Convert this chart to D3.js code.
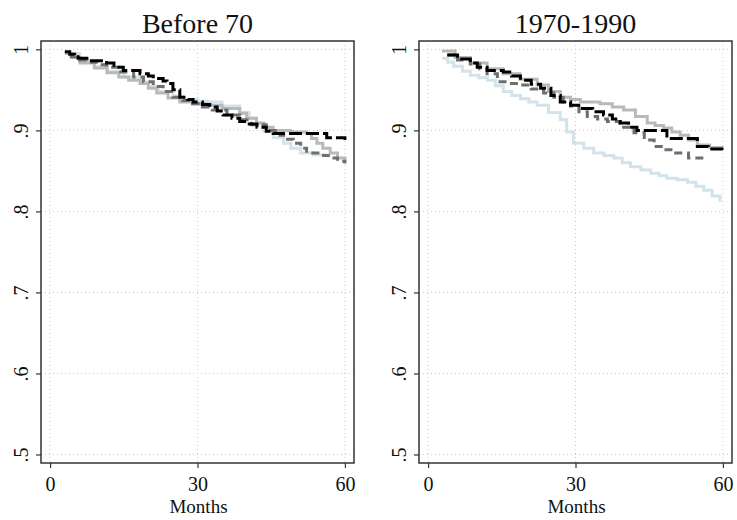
<!DOCTYPE html>
<html>
<head>
<meta charset="utf-8">
<script src="https://cdn.jsdelivr.net/npm/d3@7"></script>
<style>
  body { margin: 0; background: #fff; }
  text { font-family: "Liberation Serif", "DejaVu Serif", serif; fill: #111; }
</style>
</head>
<body>
<div id="chart"></div>
<script>
// panel titles and axis ticks
var panelTitles = ["Before 70", "1970-1990"];
var xTicks = [0, 30, 60];
var yTicks = [0.5, 0.6, 0.7, 0.8, 0.9, 1];

// survival curves: [month, value]
// Before 70
var before_black = [[3,0.997],[4,0.994],[5,0.991],[5.7,0.989],[8,0.986],[11.5,0.983],[13,0.978],[14.9,0.974],[18.3,0.970],[20,0.967],[21,0.964],[23,0.961],[23.8,0.958],[25,0.950],[26.4,0.941],[28,0.938],[29.1,0.935],[31,0.932],[32.5,0.929],[34,0.924],[35.2,0.919],[37,0.915],[38.6,0.911],[40,0.908],[42.1,0.904],[44,0.899],[45.4,0.896],[56.3,0.891],[60,0.888]];
var before_dgray = [[4,0.991],[6,0.987],[7.5,0.984],[9.5,0.981],[11.5,0.978],[14,0.972],[17,0.966],[19,0.960],[21,0.954],[23,0.948],[25,0.941],[27,0.937],[29,0.933],[31,0.929],[33,0.925],[36,0.919],[38.6,0.913],[41,0.907],[44,0.900],[46.8,0.894],[48,0.889],[49.5,0.884],[51,0.878],[52.2,0.872],[54.5,0.869],[57,0.866],[58.5,0.862],[60,0.859]];
var before_lgray = [[3,0.995],[4.5,0.990],[6.1,0.983],[9,0.977],[11.6,0.971],[14,0.966],[16,0.962],[18.3,0.958],[20,0.952],[21.7,0.946],[24,0.940],[26.4,0.935],[29,0.933],[31.9,0.931],[35,0.927],[38.6,0.921],[40,0.915],[42,0.909],[43.5,0.904],[45.4,0.900],[49,0.898],[52.2,0.896],[53.2,0.890],[54.3,0.884],[55.5,0.878],[57,0.872],[58.5,0.866],[60,0.861]];
var before_blue = [[3,0.995],[6,0.985],[9,0.979],[11.6,0.973],[15,0.966],[18.3,0.960],[20,0.954],[22,0.948],[25,0.942],[27,0.938],[30,0.936],[32,0.935],[35,0.930],[38.6,0.922],[40.5,0.915],[42,0.908],[43.5,0.899],[45.4,0.891],[47.5,0.884],[49,0.878],[51,0.872],[53.5,0.870],[56,0.869]];
// 1970-1990
var mid_black = [[3.9,0.993],[6,0.988],[8.6,0.983],[10,0.978],[12,0.974],[15.3,0.972],[17,0.967],[18.8,0.962],[21,0.957],[22.9,0.952],[25,0.943],[26.9,0.935],[29,0.931],[31,0.927],[33.5,0.923],[35.7,0.919],[37.5,0.914],[39.1,0.909],[40.8,0.904],[42.5,0.900],[47.2,0.900],[48.6,0.890],[54.8,0.880],[57,0.877],[59.8,0.873]];
var mid_dgray = [[3.9,0.993],[6,0.987],[8.6,0.982],[10.5,0.976],[12,0.970],[14.1,0.960],[16.5,0.958],[18.8,0.956],[21,0.951],[23.5,0.946],[25.6,0.941],[27.5,0.935],[29,0.930],[30.7,0.923],[32.4,0.917],[34.5,0.914],[36.5,0.911],[39,0.904],[41.9,0.897],[44,0.888],[46,0.880],[48,0.876],[50,0.872],[53,0.866],[56.1,0.861]];
var mid_lgray = [[2.8,0.998],[5.5,0.990],[8.6,0.983],[12,0.976],[15.3,0.970],[18.7,0.963],[22.2,0.956],[24.5,0.948],[26.9,0.941],[29,0.938],[31,0.935],[35,0.933],[37.5,0.929],[39.8,0.925],[42.2,0.917],[44.6,0.909],[46.2,0.906],[47.9,0.903],[49.6,0.898],[51.3,0.894],[53,0.888],[54.8,0.882],[57.3,0.879],[59.8,0.876]];
var mid_blue = [[2.8,0.989],[4,0.984],[5.2,0.979],[7,0.973],[8.6,0.968],[10.3,0.965],[12.1,0.962],[13.7,0.955],[15.3,0.948],[17,0.943],[18.8,0.939],[20.5,0.935],[22.2,0.931],[24.5,0.922],[26.9,0.913],[28.2,0.898],[29.6,0.884],[31.7,0.878],[33.7,0.872],[35.8,0.869],[37.8,0.866],[39.5,0.860],[41.2,0.855],[43.3,0.851],[45.3,0.847],[47,0.844],[48.6,0.841],[50.7,0.839],[52.8,0.836],[54.5,0.831],[56.1,0.826],[57.8,0.819],[59.4,0.812]];

var width = 737, height = 520;

var svg = d3.select("#chart")
    .append("svg")
    .attr("width", width)
    .attr("height", height);

// line styles, drawn in this order
var styles = [
    {color: "#d3e3eb", dash: null},
    {color: "#b9b9b9", dash: null},
    {color: "#6f6f6f", dash: "8,5"},
    {color: "#000000", dash: "13,4"}
];

var panels = [
    {left: 41, series: [before_blue, before_lgray, before_dgray, before_black]},
    {left: 419, series: [mid_blue, mid_lgray, mid_dgray, mid_black]}
];

var plotTop = 41, plotBottom = 463, pw = 313;

panels.forEach(function(p, i) {
    var x = d3.scaleLinear().domain([-1.85, 61.85]).range([p.left, p.left + pw]);
    var y = d3.scaleLinear().domain([0.4895, 1.0103]).range([plotBottom, plotTop]);

    var g = svg.append("g");

    // dotted grid
    g.selectAll(".hgrid").data(yTicks).enter().append("line")
        .attr("x1", p.left).attr("x2", p.left + pw)
        .attr("y1", d => y(d)).attr("y2", d => y(d))
        .attr("stroke", "#c8c8c8").attr("stroke-width", 1)
        .attr("stroke-dasharray", "1,3");
    g.selectAll(".vgrid").data(xTicks).enter().append("line")
        .attr("y1", plotTop).attr("y2", plotBottom)
        .attr("x1", d => x(d)).attr("x2", d => x(d))
        .attr("stroke", "#c8c8c8").attr("stroke-width", 1)
        .attr("stroke-dasharray", "1,3");

    // curves
    var line = d3.line()
        .x(d => x(d[0]))
        .y(d => y(d[1]))
        .curve(d3.curveStepAfter);

    p.series.forEach(function(s, k) {
        g.append("path")
            .datum(s)
            .attr("d", line)
            .attr("fill", "none")
            .attr("stroke", styles[k].color)
            .attr("stroke-width", 3)
            .attr("stroke-dasharray", styles[k].dash);
    });

    // frame
    g.append("rect")
        .attr("x", p.left).attr("y", plotTop)
        .attr("width", pw).attr("height", plotBottom - plotTop)
        .attr("fill", "none")
        .attr("stroke", "#333").attr("stroke-width", 1.5);

    // axes
    var yAxis = g.append("g")
        .attr("transform", `translate(${p.left},0)`)
        .call(d3.axisLeft(y).tickValues(yTicks).tickSize(5).tickPadding(0)
            .tickFormat(d => d === 1 ? "1" : d3.format(".1f")(d).replace("0.", ".")));
    yAxis.select(".domain").remove();
    yAxis.attr("font-family", null).attr("font-size", null);
    yAxis.selectAll(".tick line").attr("stroke", "#333").attr("stroke-width", 1.2);
    yAxis.selectAll(".tick text")
        .attr("x", null).attr("dy", null)
        .attr("fill", "#111")
        .attr("transform", "translate(-13,0) rotate(-90)")
        .attr("text-anchor", "middle")
        .style("font-size", "20px");

    var xAxis = g.append("g")
        .attr("transform", `translate(0,${plotBottom})`)
        .call(d3.axisBottom(x).tickValues(xTicks).tickSize(5).tickPadding(0));
    xAxis.select(".domain").remove();
    xAxis.attr("font-family", null).attr("font-size", null);
    xAxis.selectAll(".tick text")
        .attr("y", 28).attr("dy", null)
        .attr("fill", "#111")
        .style("font-size", "20px");
    xAxis.selectAll(".tick line").attr("stroke", "#333").attr("stroke-width", 1.2);

    // axis title
    g.append("text")
        .attr("x", p.left + pw / 2 + 1)
        .attr("y", 513)
        .attr("text-anchor", "middle")
        .style("font-size", "19px")
        .text("Months");

    // panel title
    g.append("text")
        .attr("x", p.left + pw / 2)
        .attr("y", 33)
        .attr("text-anchor", "middle")
        .style("font-size", "28px")
        .text(panelTitles[i]);
});
</script>
</body>
</html>
